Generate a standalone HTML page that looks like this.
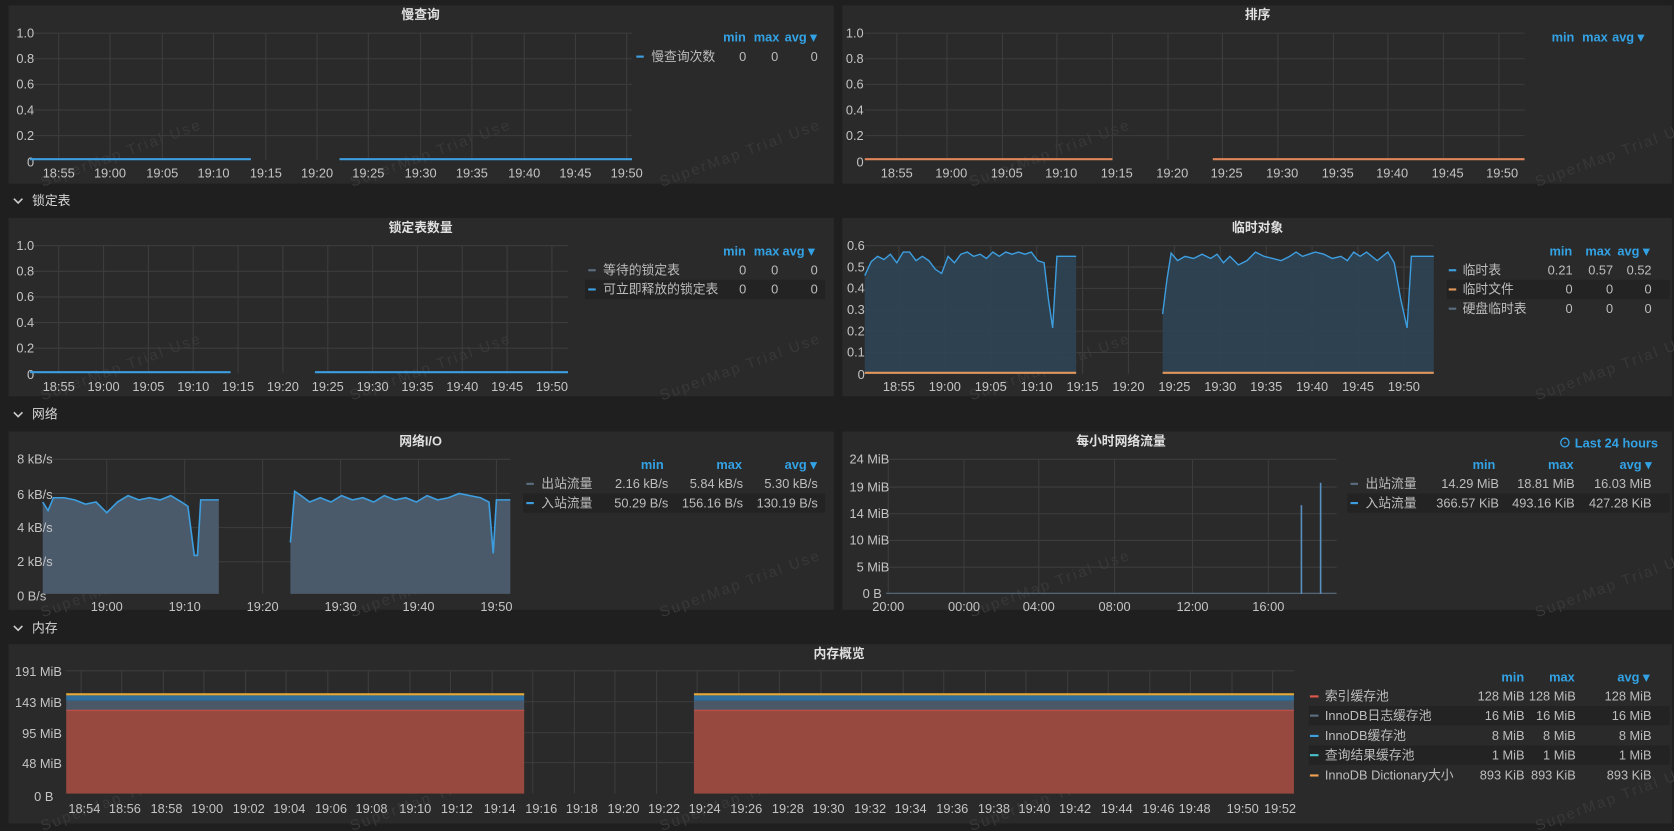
<!DOCTYPE html>
<html><head><meta charset="utf-8"><style>
html,body{margin:0;padding:0;background:#1f1f1f;width:1674px;height:831px;overflow:hidden}
svg{display:block}
text{font-family:"Liberation Sans","Noto Sans CJK SC",sans-serif}
.ax{fill:#c4c4c4;font-size:12px}
.tt{fill:#e0e0e0;font-size:12px;font-weight:bold}
.hd{fill:#33a2e5;font-size:12px;font-weight:bold}
.lg{fill:#bdbdbd;font-size:12px}
.sec{fill:#d8d8d8;font-size:12px}
.g{stroke:#3d3d3d;stroke-width:1}
.wm{fill:#383838;font-size:14px;letter-spacing:2px}
</style></head><body>
<svg width="1674" height="831" viewBox="0 0 1568 778" preserveAspectRatio="none" xmlns="http://www.w3.org/2000/svg">
<rect width="1568" height="778" fill="#1f1f1f"/>
<rect x="8" y="5" width="773" height="167" fill="#2a2a2a"/>
<rect x="789" y="5" width="777" height="167" fill="#2a2a2a"/>
<rect x="8" y="204" width="773" height="167" fill="#2a2a2a"/>
<rect x="789" y="204" width="777" height="167" fill="#2a2a2a"/>
<rect x="8" y="404" width="773" height="167" fill="#2a2a2a"/>
<rect x="789" y="404" width="777" height="167" fill="#2a2a2a"/>
<rect x="8" y="603" width="1558" height="168" fill="#2a2a2a"/>

<path d="M13 186 l4 4 l4 -4" stroke="#ccc" stroke-width="1.5" fill="none"/><text class="sec" x="30" y="192">锁定表</text>
<path d="M13 386 l4 4 l4 -4" stroke="#ccc" stroke-width="1.5" fill="none"/><text class="sec" x="30" y="392">网络</text>
<path d="M13 586 l4 4 l4 -4" stroke="#ccc" stroke-width="1.5" fill="none"/><text class="sec" x="30" y="592">内存</text>

<!-- watermarks (behind) -->
<g class="wm">
<text transform="translate(40,175) rotate(-20)">SuperMap Trial Use</text>
<text transform="translate(330,175) rotate(-20)">SuperMap Trial Use</text>
<text transform="translate(620,175) rotate(-20)">SuperMap Trial Use</text>
<text transform="translate(910,175) rotate(-20)">SuperMap Trial Use</text>
<text transform="translate(1440,175) rotate(-20)">SuperMap Trial Use</text>
<text transform="translate(40,375) rotate(-20)">SuperMap Trial Use</text>
<text transform="translate(330,375) rotate(-20)">SuperMap Trial Use</text>
<text transform="translate(620,375) rotate(-20)">SuperMap Trial Use</text>
<text transform="translate(910,375) rotate(-20)">SuperMap Trial Use</text>
<text transform="translate(1440,375) rotate(-20)">SuperMap Trial Use</text>
<text transform="translate(40,578) rotate(-20)">SuperMap Trial Use</text>
<text transform="translate(330,578) rotate(-20)">SuperMap Trial Use</text>
<text transform="translate(620,578) rotate(-20)">SuperMap Trial Use</text>
<text transform="translate(910,578) rotate(-20)">SuperMap Trial Use</text>
<text transform="translate(1440,578) rotate(-20)">SuperMap Trial Use</text>
<text transform="translate(40,778) rotate(-20)">SuperMap Trial Use</text>
<text transform="translate(330,778) rotate(-20)">SuperMap Trial Use</text>
<text transform="translate(620,778) rotate(-20)">SuperMap Trial Use</text>
<text transform="translate(910,778) rotate(-20)">SuperMap Trial Use</text>
<text transform="translate(1440,778) rotate(-20)">SuperMap Trial Use</text>
</g>

<!-- Panel 1 -->
<text class="tt" x="394" y="18" text-anchor="middle">慢查询</text>
<g class="g">
<line x1="28" y1="31" x2="592" y2="31"/><line x1="28" y1="55" x2="592" y2="55"/><line x1="28" y1="79" x2="592" y2="79"/><line x1="28" y1="103" x2="592" y2="103"/><line x1="28" y1="127" x2="592" y2="127"/>
<line x1="55" y1="31" x2="55" y2="150"/><line x1="103" y1="31" x2="103" y2="150"/><line x1="152" y1="31" x2="152" y2="150"/><line x1="200" y1="31" x2="200" y2="150"/><line x1="249" y1="31" x2="249" y2="150"/><line x1="297" y1="31" x2="297" y2="150"/><line x1="345" y1="31" x2="345" y2="150"/><line x1="394" y1="31" x2="394" y2="150"/><line x1="442" y1="31" x2="442" y2="150"/><line x1="491" y1="31" x2="491" y2="150"/><line x1="539" y1="31" x2="539" y2="150"/><line x1="587" y1="31" x2="587" y2="150"/>
</g>
<g class="ax" text-anchor="end"><text x="32" y="35">1.0</text><text x="32" y="59">0.8</text><text x="32" y="83">0.6</text><text x="32" y="107">0.4</text><text x="32" y="131">0.2</text><text x="32" y="156">0</text></g>
<g class="ax" text-anchor="middle"><text x="55" y="166">18:55</text><text x="103" y="166">19:00</text><text x="152" y="166">19:05</text><text x="200" y="166">19:10</text><text x="249" y="166">19:15</text><text x="297" y="166">19:20</text><text x="345" y="166">19:25</text><text x="394" y="166">19:30</text><text x="442" y="166">19:35</text><text x="491" y="166">19:40</text><text x="539" y="166">19:45</text><text x="587" y="166">19:50</text></g>
<line x1="28" y1="149" x2="235" y2="149" stroke="#3d9ee0" stroke-width="2"/><line x1="318" y1="149" x2="592" y2="149" stroke="#3d9ee0" stroke-width="2"/>
<g class="hd" text-anchor="middle"><text x="688" y="39">min</text><text x="718" y="39">max</text><text x="750" y="39">avg ▾</text></g>
<rect x="596" y="52" width="7" height="2" fill="#3d9ee0"/><text class="lg" x="610" y="57">慢查询次数</text>
<g class="lg" text-anchor="end"><text x="699" y="57">0</text><text x="729" y="57">0</text><text x="766" y="57">0</text></g>

<!-- Panel 2 -->
<text class="tt" x="1178" y="18" text-anchor="middle">排序</text>
<g class="g">
<line x1="810" y1="31" x2="1428" y2="31"/><line x1="810" y1="55" x2="1428" y2="55"/><line x1="810" y1="79" x2="1428" y2="79"/><line x1="810" y1="103" x2="1428" y2="103"/><line x1="810" y1="127" x2="1428" y2="127"/>
<line x1="840" y1="31" x2="840" y2="150"/><line x1="887" y1="31" x2="887" y2="150"/><line x1="939" y1="31" x2="939" y2="150"/><line x1="990" y1="31" x2="990" y2="150"/><line x1="1042" y1="31" x2="1042" y2="150"/><line x1="1094" y1="31" x2="1094" y2="150"/><line x1="1145" y1="31" x2="1145" y2="150"/><line x1="1197" y1="31" x2="1197" y2="150"/><line x1="1249" y1="31" x2="1249" y2="150"/><line x1="1300" y1="31" x2="1300" y2="150"/><line x1="1352" y1="31" x2="1352" y2="150"/><line x1="1404" y1="31" x2="1404" y2="150"/>
</g>
<g class="ax" text-anchor="end"><text x="809" y="35">1.0</text><text x="809" y="59">0.8</text><text x="809" y="83">0.6</text><text x="809" y="107">0.4</text><text x="809" y="131">0.2</text><text x="809" y="156">0</text></g>
<g class="ax" text-anchor="middle"><text x="840" y="166">18:55</text><text x="891" y="166">19:00</text><text x="943" y="166">19:05</text><text x="994" y="166">19:10</text><text x="1046" y="166">19:15</text><text x="1098" y="166">19:20</text><text x="1149" y="166">19:25</text><text x="1201" y="166">19:30</text><text x="1253" y="166">19:35</text><text x="1304" y="166">19:40</text><text x="1356" y="166">19:45</text><text x="1407" y="166">19:50</text></g>
<line x1="810" y1="149" x2="1042" y2="149" stroke="#e0865a" stroke-width="2"/><line x1="1136" y1="149" x2="1428" y2="149" stroke="#e0865a" stroke-width="2"/>
<g class="hd" text-anchor="middle"><text x="1464" y="39">min</text><text x="1494" y="39">max</text><text x="1525" y="39">avg ▾</text></g>

<!-- Panel 3 -->
<text class="tt" x="394" y="217" text-anchor="middle">锁定表数量</text>
<g class="g">
<line x1="28" y1="230" x2="532" y2="230"/><line x1="28" y1="254" x2="532" y2="254"/><line x1="28" y1="278" x2="532" y2="278"/><line x1="28" y1="302" x2="532" y2="302"/><line x1="28" y1="326" x2="532" y2="326"/>
<line x1="55" y1="230" x2="55" y2="349"/><line x1="97" y1="230" x2="97" y2="349"/><line x1="139" y1="230" x2="139" y2="349"/><line x1="181" y1="230" x2="181" y2="349"/><line x1="223" y1="230" x2="223" y2="349"/><line x1="265" y1="230" x2="265" y2="349"/><line x1="307" y1="230" x2="307" y2="349"/><line x1="349" y1="230" x2="349" y2="349"/><line x1="391" y1="230" x2="391" y2="349"/><line x1="433" y1="230" x2="433" y2="349"/><line x1="475" y1="230" x2="475" y2="349"/><line x1="517" y1="230" x2="517" y2="349"/>
</g>
<g class="ax" text-anchor="end"><text x="32" y="234">1.0</text><text x="32" y="258">0.8</text><text x="32" y="282">0.6</text><text x="32" y="306">0.4</text><text x="32" y="330">0.2</text><text x="32" y="355">0</text></g>
<g class="ax" text-anchor="middle"><text x="55" y="366">18:55</text><text x="97" y="366">19:00</text><text x="139" y="366">19:05</text><text x="181" y="366">19:10</text><text x="223" y="366">19:15</text><text x="265" y="366">19:20</text><text x="307" y="366">19:25</text><text x="349" y="366">19:30</text><text x="391" y="366">19:35</text><text x="433" y="366">19:40</text><text x="475" y="366">19:45</text><text x="517" y="366">19:50</text></g>
<line x1="28" y1="348.5" x2="216" y2="348.5" stroke="#3d9ee0" stroke-width="2"/><line x1="295" y1="348.5" x2="532" y2="348.5" stroke="#3d9ee0" stroke-width="2"/>
<g class="hd" text-anchor="middle"><text x="688" y="239">min</text><text x="718" y="239">max</text><text x="748" y="239">avg ▾</text></g>
<rect x="548" y="262" width="225" height="18" fill="#232323"/>
<rect x="551" y="252" width="7" height="2" fill="#5a6e80"/><text class="lg" x="565" y="257">等待的锁定表</text>
<rect x="551" y="270" width="7" height="2" fill="#3d9ee0"/><text class="lg" x="565" y="275">可立即释放的锁定表</text>
<g class="lg" text-anchor="end"><text x="699" y="257">0</text><text x="729" y="257">0</text><text x="766" y="257">0</text><text x="699" y="275">0</text><text x="729" y="275">0</text><text x="766" y="275">0</text></g>

<!-- Panel 4 -->
<text class="tt" x="1178" y="217" text-anchor="middle">临时对象</text>
<g class="g">
<line x1="810" y1="230" x2="1343" y2="230"/><line x1="810" y1="250" x2="1343" y2="250"/><line x1="810" y1="270" x2="1343" y2="270"/><line x1="810" y1="290" x2="1343" y2="290"/><line x1="810" y1="310" x2="1343" y2="310"/><line x1="810" y1="330" x2="1343" y2="330"/>
<line x1="842" y1="230" x2="842" y2="350"/><line x1="885" y1="230" x2="885" y2="350"/><line x1="928" y1="230" x2="928" y2="350"/><line x1="971" y1="230" x2="971" y2="350"/><line x1="1014" y1="230" x2="1014" y2="350"/><line x1="1057" y1="230" x2="1057" y2="350"/><line x1="1100" y1="230" x2="1100" y2="350"/><line x1="1143" y1="230" x2="1143" y2="350"/><line x1="1186" y1="230" x2="1186" y2="350"/><line x1="1229" y1="230" x2="1229" y2="350"/><line x1="1272" y1="230" x2="1272" y2="350"/><line x1="1315" y1="230" x2="1315" y2="350"/>
</g>
<path d="M810,350 L810,258 816,245 822,240 828,243 834,238 840,246 846,236 852,236 858,244 864,240 870,244 876,252 882,256 888,240 894,246 900,238 906,236 912,240 918,238 924,242 930,236 936,240 942,236 948,238 954,236 960,238 966,236 972,244 978,246 982,280 986,307 990,240 1008,240 L1008,350 Z" fill="#2e4455" fill-opacity="0.9"/>
<polyline points="810,258 816,245 822,240 828,243 834,238 840,246 846,236 852,236 858,244 864,240 870,244 876,252 882,256 888,240 894,246 900,238 906,236 912,240 918,238 924,242 930,236 936,240 942,236 948,238 954,236 960,238 966,236 972,244 978,246 982,280 986,307 990,240 1008,240" fill="none" stroke="#3d9ee0" stroke-width="1.3"/>
<path d="M1089,350 L1089,294 1093,262 1097,237 1103,244 1110,240 1118,242 1126,238 1134,242 1140,238 1146,246 1152,240 1160,248 1168,244 1176,236 1184,240 1192,242 1200,244 1208,240 1214,236 1220,240 1226,238 1232,236 1240,238 1248,242 1256,240 1262,244 1268,236 1274,240 1280,236 1290,244 1300,236 1306,246 1312,280 1318,307 1322,240 1343,240 L1343,350 Z" fill="#2e4455" fill-opacity="0.9"/>
<polyline points="1089,294 1093,262 1097,237 1103,244 1110,240 1118,242 1126,238 1134,242 1140,238 1146,246 1152,240 1160,248 1168,244 1176,236 1184,240 1192,242 1200,244 1208,240 1214,236 1220,240 1226,238 1232,236 1240,238 1248,242 1256,240 1262,244 1268,236 1274,240 1280,236 1290,244 1300,236 1306,246 1312,280 1318,307 1322,240 1343,240" fill="none" stroke="#3d9ee0" stroke-width="1.3"/>
<line x1="810" y1="349" x2="1008" y2="349" stroke="#e0965a" stroke-width="2"/><line x1="1089" y1="349" x2="1343" y2="349" stroke="#e0965a" stroke-width="2"/>
<g class="ax" text-anchor="end"><text x="810" y="234">0.6</text><text x="810" y="254">0.5</text><text x="810" y="274">0.4</text><text x="810" y="294">0.3</text><text x="810" y="314">0.2</text><text x="810" y="334">0.1</text><text x="810" y="355">0</text></g>
<g class="ax" text-anchor="middle"><text x="842" y="366">18:55</text><text x="885" y="366">19:00</text><text x="928" y="366">19:05</text><text x="971" y="366">19:10</text><text x="1014" y="366">19:15</text><text x="1057" y="366">19:20</text><text x="1100" y="366">19:25</text><text x="1143" y="366">19:30</text><text x="1186" y="366">19:35</text><text x="1229" y="366">19:40</text><text x="1272" y="366">19:45</text><text x="1315" y="366">19:50</text></g>
<g class="hd" text-anchor="middle"><text x="1462" y="239">min</text><text x="1497" y="239">max</text><text x="1530" y="239">avg ▾</text></g>
<rect x="1355" y="262" width="209" height="18" fill="#232323"/>
<rect x="1357" y="252" width="7" height="2" fill="#3d9ee0"/><text class="lg" x="1370" y="257">临时表</text>
<rect x="1357" y="270" width="7" height="2" fill="#e0965a"/><text class="lg" x="1370" y="275">临时文件</text>
<rect x="1357" y="288" width="7" height="2" fill="#5a6e80"/><text class="lg" x="1370" y="293">硬盘临时表</text>
<g class="lg" text-anchor="end"><text x="1473" y="257">0.21</text><text x="1511" y="257">0.57</text><text x="1547" y="257">0.52</text><text x="1473" y="275">0</text><text x="1511" y="275">0</text><text x="1547" y="275">0</text><text x="1473" y="293">0</text><text x="1511" y="293">0</text><text x="1547" y="293">0</text></g>

<!-- Panel 5 -->
<text class="tt" x="394" y="417" text-anchor="middle">网络I/O</text>
<g class="g">
<line x1="40" y1="430" x2="478" y2="430"/><line x1="40" y1="462" x2="478" y2="462"/><line x1="40" y1="494" x2="478" y2="494"/><line x1="40" y1="526" x2="478" y2="526"/>
<line x1="100" y1="430" x2="100" y2="556"/><line x1="173" y1="430" x2="173" y2="556"/><line x1="246" y1="430" x2="246" y2="556"/><line x1="319" y1="430" x2="319" y2="556"/><line x1="392" y1="430" x2="392" y2="556"/><line x1="465" y1="430" x2="465" y2="556"/>
</g>
<path d="M40,556 L40,470 45,478 50,466 60,466 70,468 80,472 90,470 100,480 110,470 120,464 130,468 140,466 150,468 160,464 170,470 176,474 182,520 185,520 188,468 205,468 L205,556 Z" fill="#4a5a6a"/>
<polyline points="40,470 45,478 50,466 60,466 70,468 80,472 90,470 100,480 110,470 120,464 130,468 140,466 150,468 160,464 170,470 176,474 182,520 185,520 188,468 205,468" fill="none" stroke="#3d9ee0" stroke-width="1.5"/>
<path d="M272,556 L272,508 276,460 282,464 290,470 300,466 310,470 320,464 330,468 340,466 350,470 360,464 370,468 380,466 390,470 400,464 410,468 420,466 430,462 450,466 458,470 462,518 465,468 478,468 L478,556 Z" fill="#4a5a6a"/>
<polyline points="272,508 276,460 282,464 290,470 300,466 310,470 320,464 330,468 340,466 350,470 360,464 370,468 380,466 390,470 400,464 410,468 420,466 430,462 450,466 458,470 462,518 465,468 478,468" fill="none" stroke="#3d9ee0" stroke-width="1.5"/>
<g class="ax" text-anchor="start"><text x="16" y="434">8 kB/s</text><text x="16" y="467">6 kB/s</text><text x="16" y="498">4 kB/s</text><text x="16" y="530">2 kB/s</text><text x="16" y="562">0 B/s</text></g>
<g class="ax" text-anchor="middle"><text x="100" y="572">19:00</text><text x="173" y="572">19:10</text><text x="246" y="572">19:20</text><text x="319" y="572">19:30</text><text x="392" y="572">19:40</text><text x="465" y="572">19:50</text></g>
<g class="hd" text-anchor="middle"><text x="611" y="439">min</text><text x="683" y="439">max</text><text x="750" y="439">avg ▾</text></g>
<rect x="490" y="462" width="283" height="18" fill="#232323"/>
<rect x="493" y="452" width="7" height="2" fill="#5a6e80"/><text class="lg" x="507" y="457">出站流量</text>
<rect x="493" y="470" width="7" height="2" fill="#3d9ee0"/><text class="lg" x="507" y="475">入站流量</text>
<g class="lg" text-anchor="end"><text x="626" y="457">2.16 kB/s</text><text x="696" y="457">5.84 kB/s</text><text x="766" y="457">5.30 kB/s</text><text x="626" y="475">50.29 B/s</text><text x="696" y="475">156.16 B/s</text><text x="766" y="475">130.19 B/s</text></g>

<!-- Panel 6 -->
<text class="tt" x="1050" y="417" text-anchor="middle">每小时网络流量</text>
<text class="hd" x="1553" y="419" text-anchor="end">⊙ Last 24 hours</text>
<g class="g">
<line x1="830" y1="430" x2="1252" y2="430"/><line x1="830" y1="456" x2="1252" y2="456"/><line x1="830" y1="481" x2="1252" y2="481"/><line x1="830" y1="506" x2="1252" y2="506"/><line x1="830" y1="531" x2="1252" y2="531"/>
<line x1="832" y1="430" x2="832" y2="556"/><line x1="903" y1="430" x2="903" y2="556"/><line x1="973" y1="430" x2="973" y2="556"/><line x1="1044" y1="430" x2="1044" y2="556"/><line x1="1117" y1="430" x2="1117" y2="556"/><line x1="1188" y1="430" x2="1188" y2="556"/>
</g>
<line x1="830" y1="555.5" x2="1252" y2="555.5" stroke="#5a6e80" stroke-width="1"/>
<line x1="1219" y1="473" x2="1219" y2="556" stroke="#5a90c0" stroke-width="1.5"/>
<line x1="1237" y1="452" x2="1237" y2="556" stroke="#5a90c0" stroke-width="1.5"/>
<g class="ax" text-anchor="end"><text x="833" y="434">24 MiB</text><text x="833" y="460">19 MiB</text><text x="833" y="485">14 MiB</text><text x="833" y="510">10 MiB</text><text x="833" y="535">5 MiB</text><text x="826" y="560">0 B</text></g>
<g class="ax" text-anchor="middle"><text x="832" y="572">20:00</text><text x="903" y="572">00:00</text><text x="973" y="572">04:00</text><text x="1044" y="572">08:00</text><text x="1117" y="572">12:00</text><text x="1188" y="572">16:00</text></g>
<g class="hd" text-anchor="middle"><text x="1390" y="439">min</text><text x="1462" y="439">max</text><text x="1532" y="439">avg ▾</text></g>
<rect x="1262" y="462" width="302" height="18" fill="#232323"/>
<rect x="1265" y="452" width="7" height="2" fill="#5a6e80"/><text class="lg" x="1279" y="457">出站流量</text>
<rect x="1265" y="470" width="7" height="2" fill="#3d9ee0"/><text class="lg" x="1279" y="475">入站流量</text>
<g class="lg" text-anchor="end"><text x="1404" y="457">14.29 MiB</text><text x="1475" y="457">18.81 MiB</text><text x="1547" y="457">16.03 MiB</text><text x="1404" y="475">366.57 KiB</text><text x="1475" y="475">493.16 KiB</text><text x="1547" y="475">427.28 KiB</text></g>

<!-- Panel 7 -->
<text class="tt" x="786" y="616" text-anchor="middle">内存概览</text>
<g class="g">
<line x1="62" y1="628" x2="1212" y2="628"/><line x1="62" y1="657" x2="1212" y2="657"/><line x1="62" y1="686" x2="1212" y2="686"/><line x1="62" y1="714" x2="1212" y2="714"/>
<line x1="76" y1="628" x2="76" y2="743"/><line x1="114" y1="628" x2="114" y2="743"/><line x1="153" y1="628" x2="153" y2="743"/><line x1="191" y1="628" x2="191" y2="743"/><line x1="230" y1="628" x2="230" y2="743"/><line x1="268" y1="628" x2="268" y2="743"/><line x1="307" y1="628" x2="307" y2="743"/><line x1="345" y1="628" x2="345" y2="743"/><line x1="384" y1="628" x2="384" y2="743"/><line x1="422" y1="628" x2="422" y2="743"/><line x1="461" y1="628" x2="461" y2="743"/><line x1="499" y1="628" x2="499" y2="743"/><line x1="538" y1="628" x2="538" y2="743"/><line x1="576" y1="628" x2="576" y2="743"/><line x1="615" y1="628" x2="615" y2="743"/><line x1="653" y1="628" x2="653" y2="743"/><line x1="692" y1="628" x2="692" y2="743"/><line x1="730" y1="628" x2="730" y2="743"/><line x1="769" y1="628" x2="769" y2="743"/><line x1="807" y1="628" x2="807" y2="743"/><line x1="846" y1="628" x2="846" y2="743"/><line x1="884" y1="628" x2="884" y2="743"/><line x1="923" y1="628" x2="923" y2="743"/><line x1="961" y1="628" x2="961" y2="743"/><line x1="1000" y1="628" x2="1000" y2="743"/><line x1="1038" y1="628" x2="1038" y2="743"/><line x1="1077" y1="628" x2="1077" y2="743"/><line x1="1115" y1="628" x2="1115" y2="743"/><line x1="1154" y1="628" x2="1154" y2="743"/><line x1="1192" y1="628" x2="1192" y2="743"/>
</g>
<g>
<rect x="62" y="665" width="429" height="78" fill="#97483f"/>
<rect x="62" y="656" width="429" height="9" fill="#4a5868"/>
<rect x="62" y="651" width="429" height="5" fill="#2f6f9f"/>
<rect x="62" y="649" width="429" height="2" fill="#e5a83a"/>
<line x1="62" y1="665" x2="491" y2="665" stroke="#c0504a" stroke-width="1"/>
<rect x="650" y="665" width="562" height="78" fill="#97483f"/>
<rect x="650" y="656" width="562" height="9" fill="#4a5868"/>
<rect x="650" y="651" width="562" height="5" fill="#2f6f9f"/>
<rect x="650" y="649" width="562" height="2" fill="#e5a83a"/>
<line x1="650" y1="665" x2="1212" y2="665" stroke="#c0504a" stroke-width="1"/>
</g>
<g class="ax" text-anchor="end"><text x="58" y="633">191 MiB</text><text x="58" y="662">143 MiB</text><text x="58" y="691">95 MiB</text><text x="58" y="719">48 MiB</text><text x="50" y="750">0 B</text></g>
<g class="ax" text-anchor="middle"><text x="79" y="761">18:54</text><text x="117" y="761">18:56</text><text x="156" y="761">18:58</text><text x="194" y="761">19:00</text><text x="233" y="761">19:02</text><text x="271" y="761">19:04</text><text x="310" y="761">19:06</text><text x="348" y="761">19:08</text><text x="389" y="761">19:10</text><text x="428" y="761">19:12</text><text x="468" y="761">19:14</text><text x="507" y="761">19:16</text><text x="545" y="761">19:18</text><text x="584" y="761">19:20</text><text x="622" y="761">19:22</text><text x="660" y="761">19:24</text><text x="699" y="761">19:26</text><text x="738" y="761">19:28</text><text x="776" y="761">19:30</text><text x="815" y="761">19:32</text><text x="853" y="761">19:34</text><text x="892" y="761">19:36</text><text x="931" y="761">19:38</text><text x="969" y="761">19:40</text><text x="1007" y="761">19:42</text><text x="1046" y="761">19:44</text><text x="1085" y="761">19:46</text><text x="1119" y="761">19:48</text><text x="1164" y="761">19:50</text><text x="1199" y="761">19:52</text></g>
<g class="hd" text-anchor="middle"><text x="1417" y="638">min</text><text x="1463" y="638">max</text><text x="1530" y="638">avg ▾</text></g>
<rect x="1226" y="661" width="338" height="18" fill="#232323"/>
<rect x="1226" y="698" width="338" height="18" fill="#232323"/>
<rect x="1227" y="651" width="8" height="2" fill="#e0584a"/><text class="lg" x="1241" y="656">索引缓存池</text>
<rect x="1227" y="669" width="8" height="2" fill="#5a6e80"/><text class="lg" x="1241" y="674">InnoDB日志缓存池</text>
<rect x="1227" y="688" width="8" height="2" fill="#3d9ee0"/><text class="lg" x="1241" y="693">InnoDB缓存池</text>
<rect x="1227" y="706" width="8" height="2" fill="#4ac0c8"/><text class="lg" x="1241" y="711">查询结果缓存池</text>
<rect x="1227" y="725" width="8" height="2" fill="#f0a050"/><text class="lg" x="1241" y="730">InnoDB Dictionary大小</text>
<g class="lg" text-anchor="end">
<text x="1428" y="656">128 MiB</text><text x="1476" y="656">128 MiB</text><text x="1547" y="656">128 MiB</text>
<text x="1428" y="674">16 MiB</text><text x="1476" y="674">16 MiB</text><text x="1547" y="674">16 MiB</text>
<text x="1428" y="693">8 MiB</text><text x="1476" y="693">8 MiB</text><text x="1547" y="693">8 MiB</text>
<text x="1428" y="711">1 MiB</text><text x="1476" y="711">1 MiB</text><text x="1547" y="711">1 MiB</text>
<text x="1428" y="730">893 KiB</text><text x="1476" y="730">893 KiB</text><text x="1547" y="730">893 KiB</text>
</g>
</svg>
</body></html>
